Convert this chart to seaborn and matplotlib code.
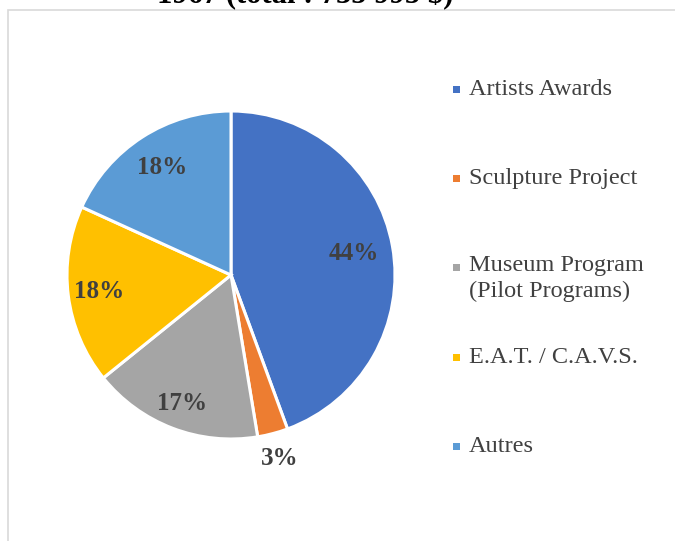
import matplotlib
matplotlib.use("Agg")
import matplotlib.pyplot as plt
from matplotlib.patches import Rectangle
import numpy as np
import seaborn as sns

# Données (parts en %)
categories = ["Artists Awards", "Sculpture Project", "Museum Program\n(Pilot Programs)",
              "E.A.T. / C.A.V.S.", "Autres"]
parts = [44.4, 3.0, 16.8, 17.6, 18.2]
couleurs = ["#4472C4", "#ED7D31", "#A5A5A5", "#FFC000", "#5B9BD5"]
titre = "1967 (total : 735 995 $)"

# distance des étiquettes au centre (en rayons)
dist_etiq = [0.76, 1.16, 0.84, 0.81, 0.78]

sns.set_theme(style="white")
plt.rcParams["font.family"] = ["Liberation Serif", "DejaVu Serif"]

palette = sns.color_palette(couleurs)

W, H = 675, 541
fig = plt.figure(figsize=(W / 100, H / 100), dpi=100)

# cadre gris clair (coupé à droite et en bas)
fig.patches.append(Rectangle((8 / W, -0.1), 1.2, 1 - 10 / H + 0.1, transform=fig.transFigure,
                             fill=False, edgecolor="#d9d9d9", linewidth=1.2))

# titre, en partie hors de l'image comme sur l'original
fig.text(305 / W, 1 - 3 / H, titre, ha="center", va="baseline",
         fontsize=22, fontweight="bold", color="#000000")

# camembert
cx, cy, r = 231, 275, 164
ax = fig.add_axes([(cx - r) / W, (H - cy - r) / H, 2 * r / W, 2 * r / H])
wedges, _, autotexts = ax.pie(parts, colors=palette, startangle=90, counterclock=False,
                              autopct="%.0f%%", pctdistance=0.8,
                              wedgeprops=dict(edgecolor="white", linewidth=2.2),
                              textprops=dict(fontsize=18, fontweight="bold", color="#404040"))
ax.set_xlim(-1, 1)
ax.set_ylim(-1, 1)
ax.set_aspect("equal")
ax.axis("off")

for w, t, d in zip(wedges, autotexts, dist_etiq):
    ang = np.deg2rad((w.theta1 + w.theta2) / 2)
    t.set_position((d * np.cos(ang), d * np.sin(ang)))

# légende dessinée à la main
for i, (lab, col) in enumerate(zip(categories, palette)):
    y = 89.5 + i * 89.2
    fig.patches.append(Rectangle((453 / W, 1 - (y + 3.5) / H), 7 / W, 7 / H,
                                 transform=fig.transFigure, color=col, linewidth=0))
    if "\n" in lab:
        fig.text(469 / W, 1 - (y - 13) / H, lab, ha="left", va="top",
                 fontsize=17.5, color="#404040", linespacing=1.3)
    else:
        fig.text(469 / W, 1 - y / H, lab, ha="left", va="center",
                 fontsize=17.5, color="#404040")

fig.savefig("out.png", dpi=100)
